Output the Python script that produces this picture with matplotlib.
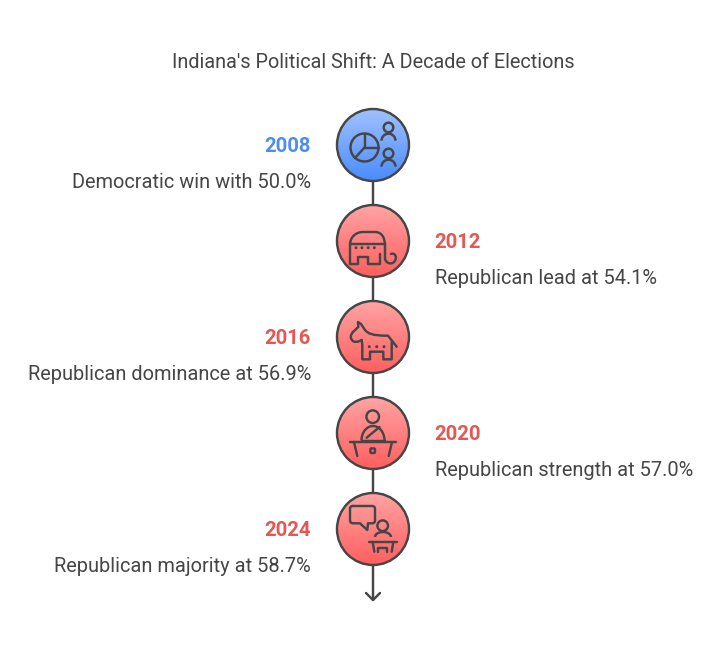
import numpy as np
import matplotlib
matplotlib.use("Agg")
import matplotlib.pyplot as plt
from matplotlib.patches import Circle, PathPatch, Arc, FancyBboxPatch
from matplotlib.path import Path
from matplotlib.colors import LinearSegmentedColormap

plt.rcParams['font.family'] = ['Roboto', 'DejaVu Sans']

title = "Indiana's Political Shift: A Decade of Elections"
years = ["2008", "2012", "2016", "2020", "2024"]
descriptions = ["Democratic win with 50.0%", "Republican lead at 54.1%",
                "Republican dominance at 56.9%", "Republican strength at 57.0%",
                "Republican majority at 58.7%"]
parties = ["D", "R", "R", "R", "R"]

INK = "#464646"
LW = 1.75
year_colors = {"D": "#4f8def", "R": "#e55753"}
grad = {"D": ("#a0c0ff", "#4a8cfc"), "R": ("#ffa3a3", "#ff5f5f")}
CX, R, Y0, STEP = 373, 36, 145, 96

fig = plt.figure(figsize=(7.22, 6.5), dpi=100)
ax = fig.add_axes([0, 0, 1, 1])
ax.set_xlim(0, 722)
ax.set_ylim(650, 0)
ax.axis("off")


def line(pts, lw=LW):
    xs, ys = zip(*pts)
    ax.plot(xs, ys, color=INK, lw=lw, solid_capstyle="round",
            solid_joinstyle="round", zorder=6)


def curve(verts, codes, lw=LW):
    ax.add_patch(PathPatch(Path(verts, codes), fc="none", ec=INK, lw=lw,
                           capstyle="round", joinstyle="round", zorder=6))


def ring(x, y, r, lw=LW):
    ax.add_patch(Circle((x, y), r, fc="none", ec=INK, lw=lw, zorder=6))


def shoulders(x, y, w, h, lw=LW):
    ax.add_patch(Arc((x, y), w, h, theta1=180, theta2=360, ec=INK, lw=lw, zorder=6))


def dot(x, y, r=1.5):
    ax.add_patch(Circle((x, y), r, fc=INK, ec="none", zorder=6))


M, L, C = Path.MOVETO, Path.LINETO, Path.CURVE4


def icon_pie(cy):
    o = cy - 145
    ring(364.5, 147.5 + o, 14)
    line([(364.5, 133.5 + o), (364.5, 147.5 + o), (378.5, 147.5 + o)])
    line([(364.5, 147.5 + o), (355, 158 + o)])
    ring(388.5, 127.5 + o, 4.8)
    shoulders(388.5, 140.7 + o, 14, 14)
    ring(388.5, 153.5 + o, 4.8)
    shoulders(388.5, 166.7 + o, 14, 14)


def icon_elephant(cy):
    o = cy - 241
    v = [(350, 263.5), (350, 245), (350, 237), (356, 232), (363, 232), (375, 232),
         (382, 232), (385, 238), (385, 246), (385, 258),
         (385, 263), (391, 265), (394, 262), (398, 258), (395, 252), (391, 254)]
    c = [M, L, C, C, C, L, C, C, C, L, C, C, C, C, C, C]
    curve([(x, y + o) for x, y in v], c)
    line([(350, 263.5 + o), (358, 263.5 + o), (358, 257 + o), (368, 257 + o),
          (368, 263.5 + o), (380, 263.5 + o), (380, 254 + o)])
    line([(350, 244 + o), (385, 244 + o)])
    for x in (356, 362, 368.2, 374.3):
        dot(x, 247.7 + o)


def icon_donkey(cy):
    o = cy - 337
    v = [(361.7, 340), (358, 342.5), (353, 342.5), (352, 340), (350, 337.5), (350.5, 335),
         (353, 332), (358.3, 327), (358, 322), (361, 324), (365, 330), (368, 333.5),
         (371.7, 335.7), (388, 335.7), (396.7, 346.7)]
    c = [M, C, C, C, C, C, C, L, L, L, L, C, C, L, L]
    curve([(x, y + o) for x, y in v], c)
    line([(361.7, 340 + o), (362.3, 345 + o), (362.3, 359.3 + o), (370, 359.3 + o),
          (370, 351.7 + o), (383.3, 351.7 + o), (383.3, 359.3 + o), (391.7, 359.3 + o),
          (391.7, 342 + o)])
    for x in (369.3, 376.7, 384):
        dot(x, 346.7 + o)


def icon_podium(cy):
    o = cy - 433
    ring(372.7, 416.7 + o, 6.3)
    shoulders(373, 440.5 + o, 23, 29)
    line([(361.5, 440.5 + o), (384.5, 440.5 + o)])
    line([(366.7, 437.7 + o), (379.5, 427 + o)])
    line([(350, 441.7 + o), (396, 441.7 + o)])
    line([(354, 442 + o), (357.3, 456 + o)])
    line([(392, 442 + o), (388.7, 456 + o)])
    ax.add_patch(FancyBboxPatch((370.4, 448.4 + o), 4.6, 4.6, boxstyle="round,pad=0,rounding_size=1",
                                fc="none", ec=INK, lw=LW, zorder=6))


def icon_speech(cy):
    o = cy - 529
    v = [(353, 506), (372, 506), (374, 506), (375, 507), (375, 509), (375, 520),
         (375, 522.5), (374, 523.3), (372, 523.3), (368, 523.3), (367.3, 530), (360, 523.3),
         (353, 523.3), (351, 523.3), (350, 522), (350, 520), (350, 509), (350, 507),
         (351, 506), (353, 506)]
    c = [M, L, C, C, C, L, C, C, C, L, L, L, L, C, C, C, L, C, C, C]
    curve([(x, y + o) for x, y in v], c)
    ring(382.7, 525.7 + o, 5.3)
    shoulders(383, 537 + o, 16, 10)
    line([(369.3, 541.7 + o), (396.7, 541.7 + o)])
    line([(372.7, 542 + o), (374.3, 551.7 + o)])
    line([(393.3, 542 + o), (391.7, 551.7 + o)])
    line([(378.3, 551.7 + o), (378.3, 547.7 + o), (387.3, 547.7 + o), (387.3, 551.7 + o)])


icons = [icon_pie, icon_elephant, icon_donkey, icon_podium, icon_speech]

centers = [Y0 + STEP * i for i in range(len(years))]
ax.plot([CX, CX], [centers[0], 600], color=INK, lw=LW, zorder=1, solid_capstyle="round")
ax.plot([CX - 7, CX, CX + 7], [593, 600, 593], color=INK, lw=LW, zorder=1,
        solid_capstyle="round", solid_joinstyle="round")

for i, (yr, desc, party, cy) in enumerate(zip(years, descriptions, parties, centers)):
    cmap = LinearSegmentedColormap.from_list("g", grad[party])
    im = ax.imshow(np.linspace(0, 1, 80).reshape(-1, 1), cmap=cmap, aspect="auto",
                   extent=(CX - R, CX + R, cy + R, cy - R), zorder=2)
    im.set_clip_path(Circle((CX, cy), R, transform=ax.transData))
    ax.add_patch(Circle((CX, cy), R, fc="none", ec=INK, lw=LW, zorder=3))
    icons[i](cy)
    left = i % 2 == 0
    tx, ha = (311, "right") if left else (435, "left")
    ax.text(tx if left else tx - 0.6, cy + 2, yr, ha=ha, va="center", fontsize=14.6,
            fontweight="bold", color=year_colors[party])
    ax.text(tx, cy + 38, desc, ha=ha, va="center", fontsize=14.4, color=INK)

ax.text(373, 63, title, ha="center", va="center", fontsize=14.35, color=INK)
ax.set_xlim(0, 722)
ax.set_ylim(650, 0)
fig.savefig("out.png", dpi=100, facecolor="white")
